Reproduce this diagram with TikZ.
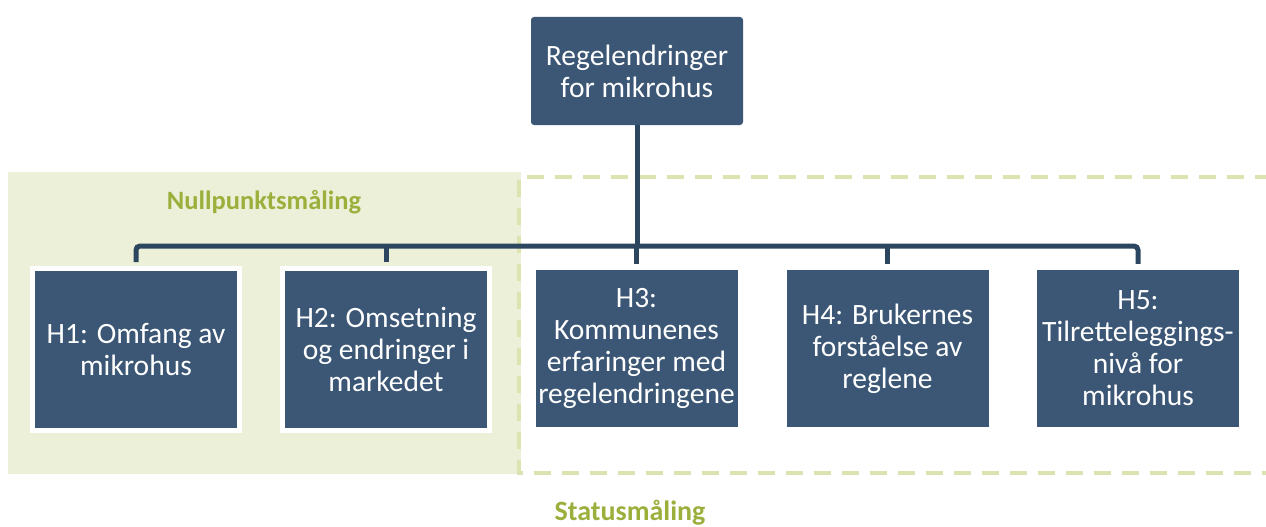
\documentclass[tikz,border=0pt]{standalone}
\usepackage{fontspec}
\setmainfont{Carlito}
\usetikzlibrary{positioning}
\definecolor{boxblue}{RGB}{59,87,117}
\definecolor{linenavy}{RGB}{44,70,96}
\definecolor{palegreen}{RGB}{237,240,217}
\definecolor{dashgreen}{RGB}{221,227,176}
\definecolor{labelgreen}{RGB}{155,176,60}
\tikzset{
  hbox/.style={fill=boxblue, text=white, minimum width=202pt, minimum height=157pt,
    inner sep=0pt, align=center, font=\fontsize{29.5}{32}\selectfont},
  framed/.style={draw=white, line width=5pt, minimum width=207pt, minimum height=162pt},
  topbox/.style={fill=boxblue, text=white, rounded corners=3pt, minimum width=212pt,
    minimum height=108pt, inner sep=0pt, align=center, font=\fontsize{29.5}{32}\selectfont},
  conn/.style={draw=linenavy, line width=5pt, rounded corners=4pt},
  zone/.style={fill=palegreen},
  dashzone/.style={draw=dashgreen, line width=4pt, dash pattern=on 17pt off 11pt},
  lbl/.style={text=labelgreen, font=\fontsize{26.5}{30}\selectfont\bfseries},
  lblbig/.style={lbl, font=\fontsize{28}{32}\selectfont\bfseries}
}
\begin{document}
\begin{tikzpicture}[x=1pt, y=-1pt]
\useasboundingbox (0,0) rectangle (1266,527);
% zones
\fill[zone] (8,172) rectangle (521,474);
\draw[dashzone] (1272,177) -- (519,177) -- (519,473) -- (1272,473);
% nodes
\node[topbox] (top) at (637,71) {Regelendringer\\for mikrohus};
\node[hbox, framed] (h1) at (136,349.5) {H1: Omfang av\\mikrohus};
\node[hbox, framed] (h2) at (386,349.5) {H2: Omsetning\\og endringer i\\markedet};
\node[hbox] (h3) at (636.5,348.5) {H3:\\Kommunenes\\erfaringer med\\regelendringene};
\node[hbox] (h4) at (887.5,348.5) {H4: Brukernes\\forståelse av\\reglene};
\node[hbox] (h5) at (1138,348.5) {H5:\\Tilretteleggings-\\nivå for\\mikrohus};
\coordinate (bus) at (637,246);
% connectors
\draw[conn] (top.south) -- (bus);
\draw[conn] ([yshift=4pt]h1.north) |- (bus) -| ([yshift=6pt]h5.north);
\draw[conn] ([yshift=4pt]h2.north) -- (h2.north |- bus);
\draw[conn] ([yshift=6pt]h3.north) -- (h3.north |- bus);
\draw[conn] ([yshift=6pt]h4.north) -- (h4.north |- bus);
% labels
\node[lbl] (null) at (264,202) {Nullpunktsmåling};
\node[lblbig] (status) at (630,513) {Statusmåling};
\end{tikzpicture}
\end{document}
